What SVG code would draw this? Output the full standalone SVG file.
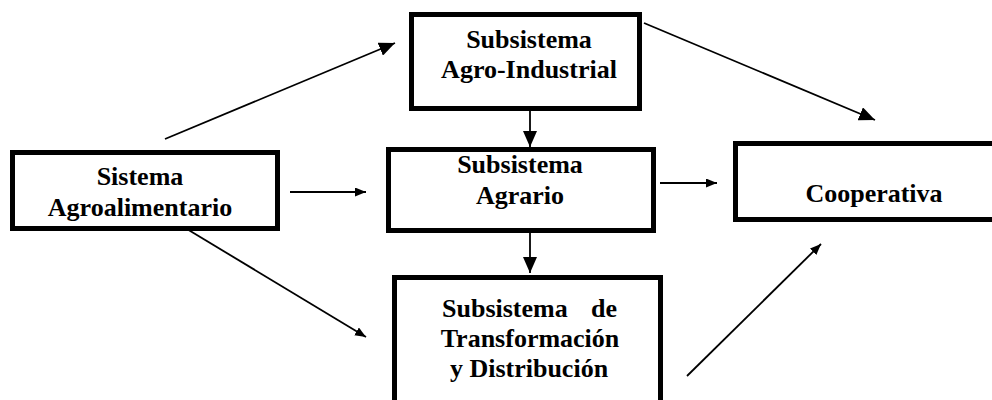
<svg xmlns="http://www.w3.org/2000/svg" width="992" height="400" viewBox="0 0 992 400">
<style>
.box{fill:#fff;stroke:#000;stroke-width:5}
.t{font-family:"Liberation Serif","Times New Roman",serif;font-weight:bold;font-size:26px;fill:#000;text-anchor:middle}
.c{stroke:#000;stroke-width:1.8;fill:none}
</style>
<defs>
<marker id="big" markerUnits="userSpaceOnUse" markerWidth="18" markerHeight="14" refX="16" refY="7" orient="auto">
<path d="M0,0 L16,7 L0,14 Z" fill="#000"/>
</marker>
<marker id="small" markerUnits="userSpaceOnUse" markerWidth="12" markerHeight="10" refX="11" refY="4.5" orient="auto">
<path d="M0,0 L11,4.5 L0,9 Z" fill="#000"/>
</marker>
</defs>
<rect width="992" height="400" fill="#fff"/>
<g id="connectors">
<line class="c" x1="165" y1="139" x2="395" y2="43" marker-end="url(#big)"/>
<line class="c" x1="290" y1="192" x2="366" y2="192" marker-end="url(#small)"/>
<line class="c" x1="177" y1="223" x2="366" y2="337" marker-end="url(#small)"/>
<line class="c" x1="530" y1="111" x2="530" y2="147" marker-end="url(#big)"/>
<line class="c" x1="530" y1="233" x2="530" y2="273" marker-end="url(#big)"/>
<line class="c" x1="644" y1="23" x2="875" y2="120" marker-end="url(#big)"/>
<line class="c" x1="660" y1="183" x2="717" y2="183" marker-end="url(#small)"/>
<line class="c" x1="687" y1="376" x2="821" y2="244" marker-end="url(#small)"/>
</g>
<g id="sistema-agroalimentario">
<rect class="box" x="12.5" y="152.5" width="265" height="76"/>
<text class="t" x="140" y="185">Sistema</text>
<text class="t" x="140" y="216">Agroalimentario</text>
</g>
<g id="subsistema-agroindustrial">
<rect class="box" x="411.5" y="14.5" width="228" height="94"/>
<text class="t" x="529" y="48">Subsistema</text>
<text class="t" x="529" y="78">Agro-Industrial</text>
</g>
<g id="subsistema-agrario">
<rect class="box" x="388.5" y="149.5" width="265" height="81"/>
<text class="t" x="520" y="173">Subsistema</text>
<text class="t" x="520" y="204">Agrario</text>
</g>
<g id="cooperativa">
<rect class="box" x="735.5" y="143.5" width="290" height="76"/>
<text class="t" x="874" y="202">Cooperativa</text>
</g>
<g id="subsistema-transformacion">
<rect class="box" x="394.5" y="277.5" width="266" height="150"/>
<text class="t" x="442" y="317" style="text-anchor:start">Subsistema</text>
<text class="t" x="617" y="317" style="text-anchor:end">de</text>
<text class="t" x="530" y="347">Transformación</text>
<text class="t" x="529" y="377">y Distribución</text>
</g>
</svg>
